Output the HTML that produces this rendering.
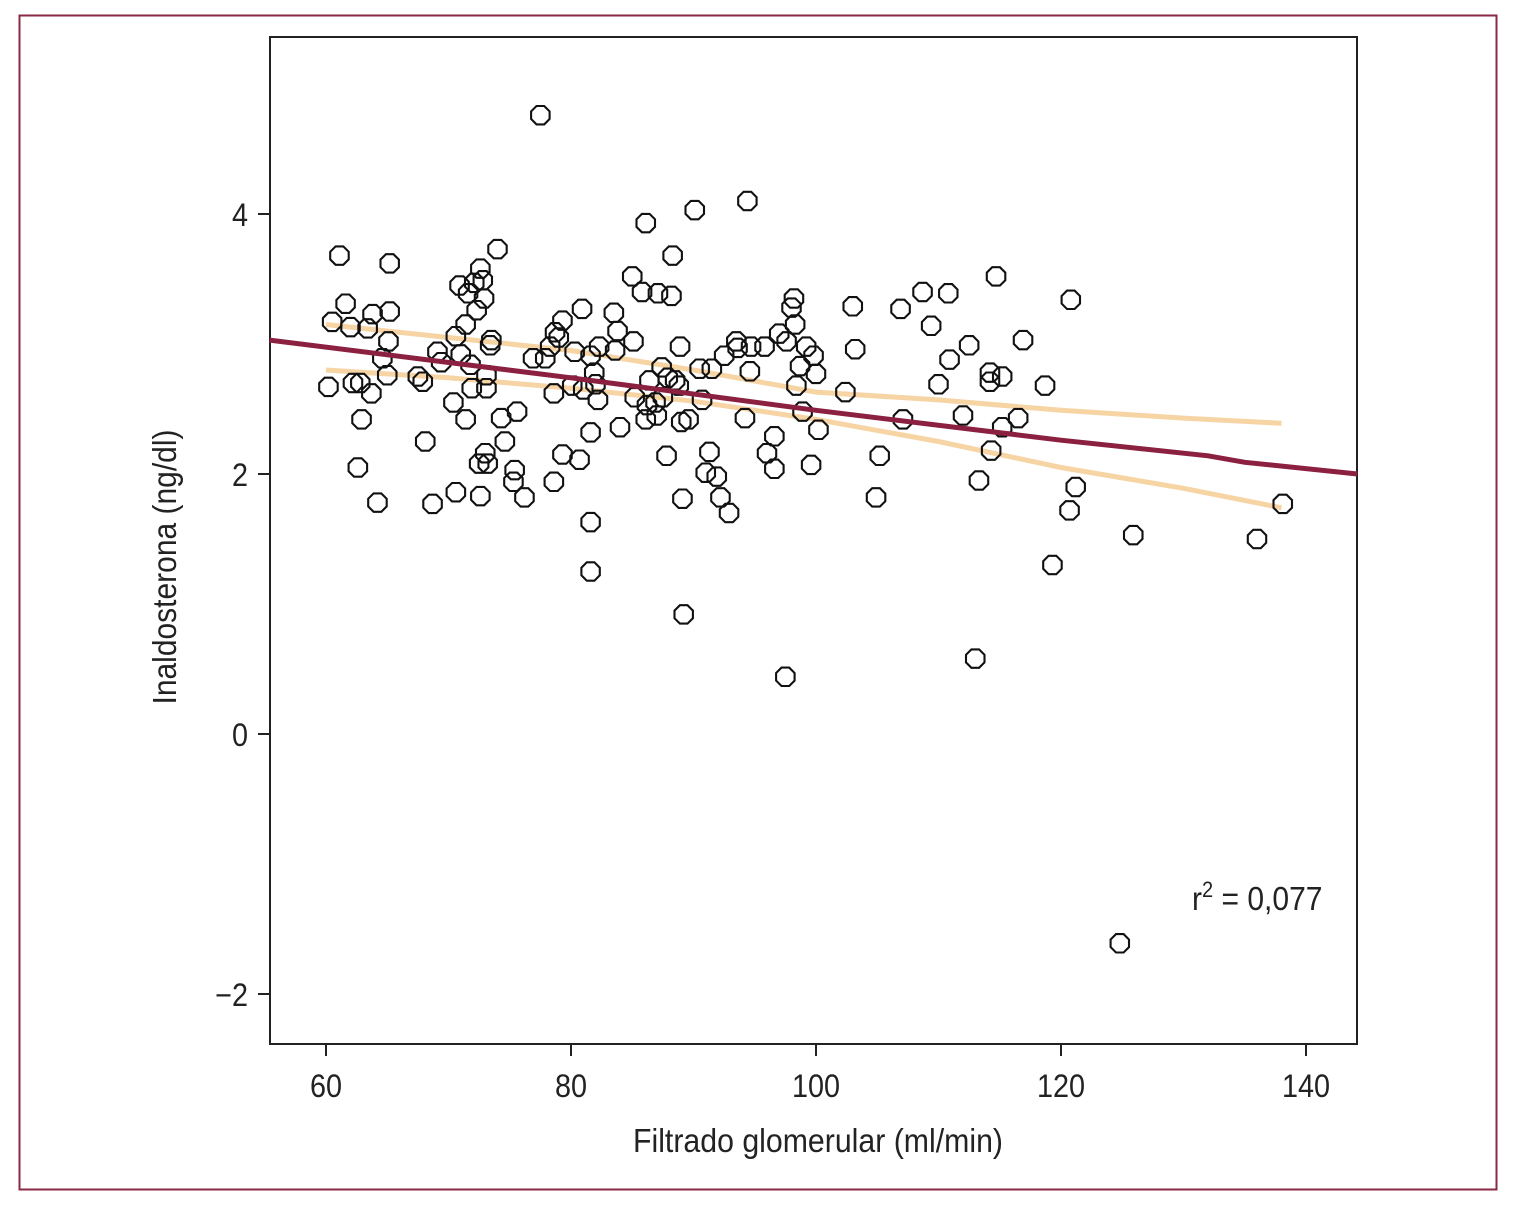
<!DOCTYPE html>
<html><head><meta charset="utf-8"><style>
html,body{margin:0;padding:0;background:#fff;}
svg{display:block;font-family:"Liberation Sans Narrow","Liberation Sans",sans-serif;}
</style></head><body>
<svg id="chart" width="1525" height="1216" viewBox="0 0 1525 1216" xmlns="http://www.w3.org/2000/svg">
<rect x="19.5" y="15.5" width="1477" height="1174" fill="#fff" stroke="#8a2a45" stroke-width="2"/>
<g id="plot"></g>
</svg>
<script>
const xTicks=[60,80,100,120,140];
const yTicks=[-2,0,2,4];
const yTickLabels=["\u22122","0","2","4"];
const ptX=[60.2,60.5,61.1,61.6,62.0,62.2,62.6,62.8,62.9,63.4,63.7,63.8,64.2,64.6,65.0,65.1,65.2,65.2,67.5,67.9,68.1,68.7,69.1,69.4,70.4,70.6,70.6,70.9,71.0,71.4,71.4,71.6,71.8,71.9,72.1,72.3,72.5,72.6,72.6,72.8,72.9,73.0,73.1,73.1,73.2,73.4,73.5,74.0,74.3,74.6,75.3,75.4,75.6,76.2,76.9,77.5,77.9,78.3,78.6,78.6,78.7,79.0,79.3,79.3,80.1,80.3,80.7,80.9,81.0,81.6,81.6,81.6,81.6,81.9,82.0,82.2,82.3,83.5,83.6,83.8,84.0,85.0,85.1,85.2,85.8,86.1,86.1,86.2,86.4,86.9,87.0,87.1,87.4,87.5,87.8,87.9,88.2,88.3,88.5,88.8,88.9,89.0,89.1,89.2,89.6,90.1,90.5,90.7,91.0,91.3,91.5,91.9,92.2,92.5,92.9,93.5,93.6,94.2,94.4,94.6,94.7,95.8,96.0,96.6,96.6,97.0,97.5,97.6,98.0,98.2,98.3,98.4,98.7,98.9,99.2,99.6,99.8,100.0,100.2,102.4,103.0,103.2,104.9,105.2,106.9,107.1,108.7,109.4,110.0,110.8,110.9,112.0,112.5,113.0,113.3,114.2,114.2,114.3,114.7,115.2,115.2,116.5,116.9,118.7,119.3,120.7,120.8,121.2,124.8,125.9,136.0,138.1];
const ptY=[2.67,3.17,3.68,3.31,3.13,2.70,2.05,2.70,2.42,3.12,2.62,3.23,1.78,2.89,2.76,3.02,3.25,3.62,2.75,2.71,2.25,1.77,2.94,2.86,2.55,1.86,3.06,3.45,2.92,2.42,3.15,3.39,2.84,2.66,3.47,3.26,2.08,1.83,3.58,3.49,3.35,2.16,2.66,2.76,2.08,2.99,3.03,3.73,2.43,2.25,1.94,2.03,2.48,1.82,2.89,4.76,2.89,2.98,2.62,1.94,3.09,3.05,3.18,2.15,2.68,2.94,2.11,3.27,2.65,2.91,2.32,1.63,1.25,2.78,2.69,2.57,2.98,3.24,2.95,3.10,2.36,3.52,3.02,2.59,3.40,2.42,3.93,2.53,2.72,2.55,2.45,3.39,2.82,2.59,2.14,2.74,3.37,3.68,2.72,2.68,2.98,2.40,1.81,0.92,2.42,4.03,2.81,2.57,2.01,2.17,2.81,1.98,1.82,2.91,1.70,3.02,2.97,2.43,4.10,2.79,2.98,2.98,2.16,2.29,2.04,3.08,0.44,3.02,3.28,3.35,3.15,2.68,2.83,2.48,2.98,2.07,2.91,2.77,2.34,2.63,3.29,2.96,1.82,2.14,3.27,2.42,3.40,3.14,2.69,3.39,2.88,2.45,2.99,0.58,1.95,2.78,2.71,2.18,3.52,2.36,2.75,2.43,3.03,2.68,1.30,1.72,3.34,1.90,-1.61,1.53,1.50,1.77];
const fitX=[55.4,80,100,120,132,135,144.2];
const fitY=[3.03,2.74,2.49,2.26,2.14,2.09,2.00];
const ciX=[60,70,80,90,100,110,120,130,138];
const ciUpY=[3.15,3.05,2.95,2.80,2.63,2.57,2.49,2.43,2.39];
const ciLoY=[2.80,2.74,2.66,2.56,2.42,2.25,2.05,1.89,1.74];

const L=270,R=1357,T=37,B=1044;
const sx=v=>326+(v-60)*12.25;
const sy=v=>734-v*130;
const NS="http://www.w3.org/2000/svg";
const g=document.getElementById('plot');
function mk(tag,attrs,parent){const e=document.createElementNS(NS,tag);for(const k in attrs)e.setAttribute(k,attrs[k]);(parent||g).appendChild(e);return e;}

const frame=mk('rect',{x:L,y:T,width:R-L,height:B-T,fill:'none',stroke:'#222','stroke-width':2});



xTicks.forEach(v=>{
 const t=mk('line',{x1:sx(v),x2:sx(v),y1:B,y2:B+12,stroke:'#222','stroke-width':2});
 
 
 const l=mk('text',{x:0,y:0,'text-anchor':'middle','font-size':32,fill:'#222',transform:`translate(${sx(v)},${B+53}) scale(0.9,1)`});
 l.textContent=v;
 
 
});
yTicks.forEach((v,i)=>{
 const t=mk('line',{x1:L-12,x2:L,y1:sy(v),y2:sy(v),stroke:'#222','stroke-width':2});
 
 
 const l=mk('text',{x:0,y:0,'text-anchor':'end','font-size':32,fill:'#222',transform:`translate(${L-22},${sy(v)+12}) scale(0.9,1)`});
 l.textContent=yTickLabels[i];
 
 
});

function pathFrom(xs,ys){return xs.map((x,i)=>(i?'L':'M')+sx(x).toFixed(1)+' '+sy(ys[i]).toFixed(1)).join(' ');}
const up=mk('path',{d:pathFrom(ciX,ciUpY),fill:'none',stroke:'#f7d4a4','stroke-width':5});


const lo=mk('path',{d:pathFrom(ciX,ciLoY),fill:'none',stroke:'#f7d4a4','stroke-width':5});



function oct(cx,cy,r){let p=[];for(let k=0;k<8;k++){const a=Math.PI/8+k*Math.PI/4;p.push((cx+r*Math.cos(a)).toFixed(1)+','+(cy+r*Math.sin(a)).toFixed(1));}return p.join(' ');}
ptX.forEach((x,i)=>{
 const p=mk('polygon',{points:oct(sx(x),sy(ptY[i]),10),fill:'none',stroke:'#111','stroke-width':2.1});
 
 
});

const fit=mk('path',{d:pathFrom(fitX,fitY),fill:'none',stroke:'#8b2040','stroke-width':5});



const r2=mk('text',{x:0,y:0,'font-size':33,fill:'#222',transform:'translate(1192,910) scale(0.91,1)'});


r2.innerHTML='r<tspan dy="-13" font-size="22">2</tspan><tspan dy="13"> = 0,077</tspan>';

const xt=mk('text',{x:818,y:1152,'text-anchor':'middle','font-size':33,fill:'#222',textLength:370,lengthAdjust:'spacingAndGlyphs'});
xt.textContent='Filtrado glomerular (ml/min)';


const yt=mk('text',{x:0,y:0,'text-anchor':'middle','font-size':33,fill:'#222',textLength:275,lengthAdjust:'spacingAndGlyphs',transform:'translate(176,567) rotate(-90)'});
yt.textContent='Inaldosterona (ng/dl)';


</script>
</body></html>
